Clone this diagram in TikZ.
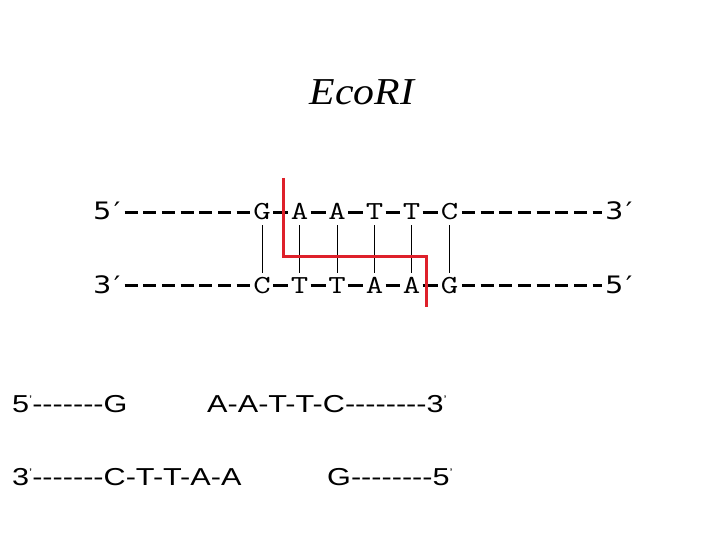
\documentclass[tikz,border=0pt]{standalone}
\usepackage{fontspec}
\usepackage{graphicx}
\usetikzlibrary{calc}
\newfontfamily\arialf{Liberation Sans}
\newfontfamily\timesf{Liberation Serif}
\newfontfamily\dvf{DejaVu Sans}
\definecolor{cutred}{RGB}{222,32,42}
\newcommand\wx[2]{\scalebox{#1}[1]{#2}}
\newcommand\tp{\raisebox{9pt}{\fontsize{11}{11}\selectfont ’}}
\tikzset{
  letter/.style={inner sep=0pt, anchor=base, text height=15pt, text depth=0pt,
    font=\ttfamily\fontsize{26}{26}\selectfont},
  endlab/.style={inner sep=0pt, anchor=base west, font=\dvf\fontsize{24}{24}\selectfont},
  frag/.style={inner sep=0pt, anchor=base west, font=\arialf\fontsize{24.5}{24.5}\selectfont},
  bb/.style={line width=3.3pt, dash pattern=on 13pt off 5.7pt},
  link/.style={line width=3.3pt, shorten <=11.2pt, shorten >=11.2pt},
  bond/.style={line width=0.9pt, shorten <=5pt, shorten >=5pt},
  cut/.style={cutred, line width=3pt}
}
\begin{document}
\begin{tikzpicture}[x=1pt,y=-1pt]
\useasboundingbox[fill=white] (0,0) rectangle (720,540);

% title
\node[inner sep=0pt, anchor=base, font=\timesf\itshape\fontsize{38}{38}\selectfont] (title) at (362,105) {\wx{1.1}{EcoRI}};

% top strand
\node[endlab] (p5a) at (93,220) {\wx{1.2}{5\kern2pt′}};
\node[letter] (t1) at (262,220) {\wx{1.3}{G}};
\node[letter] (t2) at (299.5,220) {\wx{1.3}{A}};
\node[letter] (t3) at (337,220) {\wx{1.3}{A}};
\node[letter] (t4) at (374.5,220) {\wx{1.3}{T}};
\node[letter] (t5) at (411.5,220) {\wx{1.3}{T}};
\node[letter] (t6) at (449.5,220) {\wx{1.3}{C}};
\node[endlab] (p3a) at (605,220) {\wx{1.2}{3\kern2pt′}};

% bottom strand
\node[endlab] (p3b) at (93,293) {\wx{1.2}{3\kern2pt′}};
\node[letter] (b1) at (262,293) {\wx{1.3}{C}};
\node[letter] (b2) at (299.5,293) {\wx{1.3}{T}};
\node[letter] (b3) at (337,293) {\wx{1.3}{T}};
\node[letter] (b4) at (374.5,293) {\wx{1.3}{A}};
\node[letter] (b5) at (411.5,293) {\wx{1.3}{A}};
\node[letter] (b6) at (449.5,293) {\wx{1.3}{G}};
\node[endlab] (p5b) at (605,293) {\wx{1.2}{5\kern2pt′}};

% backbone dashes
\foreach \r in {t,b}{
  \draw[bb] ($(\r1.center)+(-137.5,0)$) -- ($(\r1.center)+(-12.3,0)$);
  \draw[bb] ($(\r6.center)+(12.3,0)$) -- ($(\r6.center)+(152.5,0)$);
  \draw[link] (\r1.center) -- (\r2.center);
  \draw[link] (\r2.center) -- (\r3.center);
  \draw[link] (\r3.center) -- (\r4.center);
  \draw[link] (\r4.center) -- (\r5.center);
  \draw[link] (\r5.center) -- (\r6.center);
}

% base-pair bonds
\foreach \i in {1,...,6}{
  \draw[bond] (t\i.south) -- (b\i.north);
}

% cut line
\draw[cut] (283,178) -- (283,256) -- (426,256) -- (426,307);

% fragments after cutting
\node[frag] (f1) at (12,412) {\wx{1.25}{5\tp-------G}};
\node[frag] (f2) at (207,412) {\wx{1.25}{A-A-T-T-C--------3\tp}};
\node[frag] (f3) at (12,485) {\wx{1.25}{3\tp-------C-T-T-A-A}};
\node[frag] (f4) at (327,485) {\wx{1.25}{G--------5\tp}};
\end{tikzpicture}
\end{document}
